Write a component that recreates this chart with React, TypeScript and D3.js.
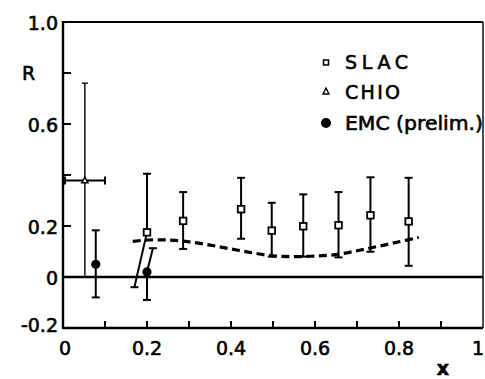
import React from "react";
import * as d3 from "d3";

// SLAC data
const slacX = [0.2, 0.286, 0.424, 0.497, 0.572, 0.656, 0.732, 0.823];
const slacY = [0.175, 0.22, 0.266, 0.182, 0.199, 0.203, 0.242, 0.218];
const slacHi = [0.405, 0.333, 0.389, 0.291, 0.324, 0.333, 0.391, 0.389];
const slacLo = [-0.04, 0.11, 0.15, 0.08, 0.08, 0.077, 0.099, 0.044];
const slacLoX = [0.17, 0.286, 0.424, 0.497, 0.572, 0.656, 0.732, 0.823];

// CHIO data
const chioX = [0.052];
const chioY = [0.378];
const chioHi = [0.76];
const chioLo = [0.0];
const chioXLo = [0.0];
const chioXHi = [0.1];

// EMC (prelim.) data
const emcX = [0.078, 0.2];
const emcY = [0.05, 0.02];
const emcHi = [0.183, 0.113];
const emcLo = [-0.08, -0.09];
const emcHiX = [0.078, 0.214];

// dashed curve
const curveX = [0.166, 0.2, 0.25, 0.3, 0.35, 0.4, 0.45, 0.5, 0.55, 0.6, 0.65, 0.7, 0.75, 0.8, 0.847];
const curveY = [0.14, 0.145, 0.145, 0.138, 0.125, 0.11, 0.095, 0.083, 0.08, 0.082, 0.088, 0.103, 0.12, 0.138, 0.155];

const xTicks = [0, 0.2, 0.4, 0.6, 0.8, 1];
const xTickLabels = ["0", "0.2", "0.4", "0.6", "0.8", "1"];
const xMinor = [0.1, 0.2, 0.3, 0.4, 0.5, 0.6, 0.7, 0.8, 0.9];
const yTicks = [-0.2, 0, 0.2, 0.6, 1.0];
const yTickLabels = ["-0.2", "0", "0.2", "0.6", "1.0"];
const yMinor = [0.2, 0.4, 0.6, 0.8];

const legendLabels = ["SLAC", "CHIO", "EMC (prelim.)"];

export default function App() {
  const W = 485, H = 379;
  const L = 63, R = 483, T = 22, B = 328;
  const x = d3.scaleLinear().domain([0, 1]).range([L, R]);
  const y = d3.scaleLinear().domain([-0.2, 1.0]).range([B, T]);
  const font = "'DejaVu Sans', sans-serif";
  const line = d3
    .line<number>()
    .x((_, i) => x(curveX[i]))
    .y((d) => y(d))
    .curve(d3.curveCatmullRom);
  const cap = 4;
  const txt = { fontFamily: font, fontSize: 19, fill: "#000", stroke: "#000", strokeWidth: 0.6 };

  return (
    <svg width={W} height={H} style={{ position: "absolute", left: 0, top: 0, background: "#fff" }}>
      <rect width={W} height={H} fill="#fff" />
      {/* zero line */}
      <line x1={x(0)} x2={x(1)} y1={y(0)} y2={y(0)} stroke="#000" strokeWidth={2.3} />
      {/* dashed curve */}
      <path d={line(curveY) || ""} fill="none" stroke="#000" strokeWidth={3.2} strokeDasharray="8 4.5" />

      {/* CHIO */}
      {chioX.map((v, i) => (
        <g key={"c" + i} stroke="#000" strokeWidth={1.4} fill="none">
          <line x1={x(v)} x2={x(v)} y1={y(chioLo[i])} y2={y(chioHi[i])} />
          <line x1={x(v) - 3} x2={x(v) + 3} y1={y(chioHi[i])} y2={y(chioHi[i])} />
          <line x1={x(v) - 3} x2={x(v) + 3} y1={y(chioLo[i])} y2={y(chioLo[i])} />
          <line x1={x(chioXLo[i])} x2={x(chioXHi[i])} y1={y(chioY[i])} y2={y(chioY[i])} strokeWidth={2} />
          <line x1={x(chioXHi[i])} x2={x(chioXHi[i])} y1={y(chioY[i]) - 4} y2={y(chioY[i]) + 4} strokeWidth={2} />
          <line x1={x(chioXLo[i]) + 2} x2={x(chioXLo[i]) + 2} y1={y(chioY[i]) - 4} y2={y(chioY[i]) + 4} strokeWidth={2} />
          <path
            d={`M${x(v)},${y(chioY[i]) - 3.5} L${x(v) + 3.2},${y(chioY[i]) + 2.2} L${x(v) - 3.2},${y(chioY[i]) + 2.2} Z`}
            fill="#fff"
            strokeWidth={1.4}
          />
        </g>
      ))}

      {/* SLAC */}
      {slacX.map((v, i) => (
        <g key={"s" + i} stroke="#000" strokeWidth={2} fill="none">
          <line x1={x(v)} x2={x(v)} y1={y(slacY[i])} y2={y(slacHi[i])} />
          <line x1={x(v) - cap} x2={x(v) + cap} y1={y(slacHi[i])} y2={y(slacHi[i])} />
          <line x1={x(v)} x2={x(slacLoX[i])} y1={y(slacY[i])} y2={y(slacLo[i])} />
          <line x1={x(slacLoX[i]) - cap} x2={x(slacLoX[i]) + cap} y1={y(slacLo[i])} y2={y(slacLo[i])} />
          <rect x={x(v) - 3.3} y={y(slacY[i]) - 3.3} width={6.6} height={6.6} fill="#fff" strokeWidth={1.8} />
        </g>
      ))}

      {/* EMC */}
      {emcX.map((v, i) => (
        <g key={"e" + i} stroke="#000" strokeWidth={2} fill="none">
          <line x1={x(v)} x2={x(emcHiX[i])} y1={y(emcY[i])} y2={y(emcHi[i])} />
          <line x1={x(emcHiX[i]) - cap} x2={x(emcHiX[i]) + cap} y1={y(emcHi[i])} y2={y(emcHi[i])} />
          <line x1={x(v)} x2={x(v)} y1={y(emcY[i])} y2={y(emcLo[i])} />
          <line x1={x(v) - cap} x2={x(v) + cap} y1={y(emcLo[i])} y2={y(emcLo[i])} />
          <circle cx={x(v)} cy={y(emcY[i])} r={4.6} fill="#000" stroke="none" />
        </g>
      ))}

      {/* frame */}
      <line x1={L} x2={L} y1={T - 1} y2={B + 1} stroke="#000" strokeWidth={2.4} />
      <line x1={L} x2={R} y1={B} y2={B} stroke="#000" strokeWidth={2.6} />
      <line x1={L} x2={R} y1={T} y2={T} stroke="#000" strokeWidth={2.2} />
      <line x1={R} x2={R} y1={T} y2={B} stroke="#000" strokeWidth={1.4} />

      {xMinor.map((v) => (
        <line key={"xm" + v} x1={x(v)} x2={x(v)} y1={B} y2={B - 7} stroke="#000" strokeWidth={2} />
      ))}
      {yMinor.map((v) => (
        <line key={"ym" + v} x1={L} x2={L + 8} y1={y(v)} y2={y(v)} stroke="#000" strokeWidth={2} />
      ))}

      {/* tick labels */}
      {xTicks.map((v, i) => (
        <text
          key={"xt" + i}
          x={i === xTicks.length - 1 ? 484 : x(v) + (i === 0 ? 2 : 0)}
          y={355}
          textAnchor={i === xTicks.length - 1 ? "end" : "middle"}
          {...txt}
        >
          {xTickLabels[i]}
        </text>
      ))}
      {yTicks.map((v, i) => (
        <text key={"yt" + i} x={58} y={y(v) + (i === 0 ? 4 : 8)} textAnchor="end" {...txt}>
          {yTickLabels[i]}
        </text>
      ))}
      <text x={22} y={80} {...txt}>R</text>
      <text x={443} y={375} textAnchor="middle" {...txt} fontWeight="bold">x</text>

      {/* legend */}
      <g>
        <rect x={323.5} y={60} width={5} height={5} fill="#fff" stroke="#000" strokeWidth={1.5} />
        <text x={345} y={69} textLength={63} lengthAdjust="spacing" {...txt}>{legendLabels[0]}</text>
        <path d="M326,88 L329,94 L323,94 Z" fill="#fff" stroke="#000" strokeWidth={1.4} />
        <text x={345} y={98.5} textLength={55} lengthAdjust="spacing" {...txt}>{legendLabels[1]}</text>
        <circle cx={326} cy={123} r={5} fill="#000" />
        <text x={345} y={130} textLength={138} lengthAdjust="spacingAndGlyphs" {...txt}>{legendLabels[2]}</text>
      </g>
    </svg>
  );
}
